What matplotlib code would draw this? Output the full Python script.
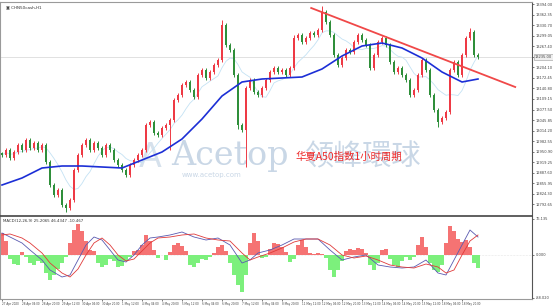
import numpy as np
import pandas as pd
import matplotlib
matplotlib.use("Agg")
import matplotlib.pyplot as plt
import matplotlib.transforms as mtransforms

plt.rcParams['font.family'] = ['DejaVu Sans', 'Noto Sans CJK SC']

# hourly closes
closes = [12941, 12956, 12932, 12950, 12971, 12956, 12986, 12962, 12977, 12956,
          12971, 12920, 12851, 12821, 12836, 12791, 12782, 12806, 12896, 12941,
          12971, 12986, 12956, 12977, 12962, 12941, 12971, 12956, 12926, 12911,
          12896, 12881, 12911, 12926, 12941, 12956, 13031, 13040, 13007, 13001,
          13022, 13031, 13046, 13106, 13121, 13151, 13160, 13136, 13115, 13181,
          13196, 13172, 13190, 13211, 13226, 13331, 13271, 13256, 13181, 13031,
          13016, 13142, 13166, 13130, 13121, 13142, 13166, 13190, 13202, 13190,
          13196, 13181, 13202, 13292, 13301, 13280, 13292, 13307, 13301, 13316,
          13370, 13340, 13301, 13241, 13211, 13232, 13256, 13250, 13280, 13301,
          13286, 13271, 13202, 13241, 13280, 13292, 13271, 13220, 13190, 13202,
          13181, 13166, 13121, 13136, 13181, 13226, 13196, 13121, 13076, 13040,
          13052, 13070, 13196, 13220, 13181, 13241, 13292, 13310, 13241, 13235]
first_open = 12946
spike_hi = {55: 13346, 80: 13388, 117: 13322, 73: 13300}
spike_lo = {16: 12770, 42: 12956, 61: 12905, 109: 13025, 59: 13020}

# slow moving average (thick blue)
ma_idx = [0, 5, 10, 15, 20, 25, 30, 35, 40, 45, 50, 55, 60, 65, 70, 75, 80, 85,
          90, 95, 100, 105, 110, 115, 119]
ma_slow = [12851, 12872, 12902, 12908, 12908, 12905, 12902, 12926, 12950, 12989,
           13049, 13118, 13160, 13169, 13172, 13175, 13199, 13238, 13268, 13277,
           13262, 13232, 13190, 13160, 13169]

# trend line
trend_idx = [77.3, 128.3]
trend_price = [13382, 13145]

# MACD panel
hist = [44, 28, -8, -18, -20, 6, -4, -16, -20, -12,
        -16, -36, -50, -40, -28, -16, -4, 24, 50, 62,
        48, 28, 10, 8, -16, -24, -20, -8, -12, -24,
        -22, -12, -4, 8, 10, 20, 40, 28, 10, -6,
        0, -10, 6, 20, 24, 18, 8, -20, -24, -16,
        -8, -10, -4, 4, 16, 20, 8, -16, -40, -60,
        -74, -40, 24, 44, 28, -6, -4, 12, 24, 22,
        16, 6, -14, -8, 20, 30, 16, 4, 2, 4,
        2, -6, -30, -44, -30, -12, 8, 12, 10, 14,
        12, 4, -20, -30, -16, 10, 12, -8, -20, -24,
        -12, -4, -10, -4, 20, 36, 16, -16, -30, -34,
        -20, 24, 58, 48, 32, 26, 30, 16, -16, -26]
macd_idx = [0, 2, 5, 7, 10, 12, 15, 17, 19, 21, 23, 25, 27, 29, 31, 33, 35, 37, 39, 42,
            45, 48, 51, 54, 57, 60, 62, 64, 67, 70, 73, 76, 79, 82, 85, 88, 91, 94, 97, 100,
            103, 106, 109, 111, 113, 115, 117, 119]
macd_main = [44, 36, 24, 10, -10, -30, -44, -40, -10, 20, 36, 30, 10, -10, -14, 0, 20, 34, 36, 40,
             46, 36, 30, 34, 20, -16, -10, 4, 10, 20, 32, 32, 32, 10, -10, -4, 0, -20, -24, -26,
             -24, -10, -36, -40, -10, 20, 50, 36]
macd_signal = [40, 42, 34, 24, 4, -16, -36, -44, -28, 0, 24, 34, 20, 0, -12, -8, 8, 24, 34, 36,
               40, 42, 34, 30, 28, 4, -10, -4, 4, 14, 26, 32, 32, 20, 0, -6, -2, -10, -20, -24,
               -26, -18, -24, -36, -30, 0, 28, 40]

date_labels = ["27 Apr 2020", "28 Apr 04:00", "28 Apr 20:00", "29 Apr 12:00", "30 Apr 04:00",
               "30 Apr 20:00", "1 May 12:00", "4 May 04:00", "4 May 20:00", "5 May 12:00",
               "6 May 04:00", "6 May 20:00", "7 May 12:00", "8 May 04:00", "8 May 20:00",
               "11 May 12:00", "12 May 04:00", "12 May 20:00", "13 May 12:00", "14 May 04:00",
               "14 May 20:00", "15 May 12:00", "18 May 04:00", "18 May 20:00"]

closes = np.array(closes, dtype=float)
opens = np.concatenate([[first_open], closes[:-1]])
idx = np.arange(len(closes))
highs = np.maximum(opens, closes) + 5
lows = np.minimum(opens, closes) - 5
for k, v in spike_hi.items():
    highs[k] = v
for k, v in spike_lo.items():
    lows[k] = v
ma_fast = pd.Series(closes).rolling(8, min_periods=1).mean()

fig = plt.figure(figsize=(5.53, 3.08), dpi=100)
ax = fig.add_axes([0.0, 1 - 216 / 308, 532 / 553, 214 / 308])
axm = fig.add_axes([0.0, 1 - 299 / 308, 532 / 553, 82 / 308], sharex=ax)

up = closes >= opens
cols = np.where(up, '#ee3a45', '#2f8f3a')
ax.vlines(idx, lows, highs, colors=cols, linewidth=0.7, zorder=3)
body = np.maximum(np.abs(closes - opens), 2)
ax.bar(idx, body, bottom=np.minimum(opens, closes), width=0.5, color=cols,
       linewidth=0, zorder=3)

ax.plot(idx, ma_fast, color='#c4e2f4', lw=0.6, zorder=2)
ax.plot(ma_idx, ma_slow, color='#1c2fd6', lw=1.2, zorder=4)
ax.plot(trend_idx, trend_price, color='#f04848', lw=1.3, zorder=5)
ax.axhline(closes[-1], color='#dcdcdc', lw=0.6, zorder=1)

ax.set_xlim(-0.5, 132.5)
ax.set_ylim(12758, 13400)
yt = 13394 - 31.65 * np.arange(20)
ax.set_yticks(yt)
ax.set_yticklabels(['%.2f' % v for v in yt])
ax.yaxis.tick_right()
ax.tick_params(axis='y', labelsize=2.6, length=1.5, width=0.5, colors='#444444', pad=1)
ax.tick_params(axis='x', bottom=False, labelbottom=False)
for s in ['top', 'left']:
    ax.spines[s].set_color('#9a9a9a')
    ax.spines[s].set_linewidth(0.8)
ax.spines['right'].set_color('#555555')
ax.spines['right'].set_linewidth(0.8)
ax.spines['bottom'].set_color('#444444')
ax.spines['bottom'].set_linewidth(1.2)

trans = mtransforms.blended_transform_factory(ax.transAxes, ax.transData)
ax.text(1.005, closes[-1], '%.2f' % closes[-1], transform=trans, fontsize=2.6,
        va='center', ha='left', color='#444444',
        bbox=dict(boxstyle='square,pad=0.2', fc='#efefef', ec='#999999', lw=0.4))

ax.text(0.012, 0.985, '\u25a3 CHN50cash,H1', transform=ax.transAxes, fontsize=3.0,
        va='top', ha='left', color='#333333')

# watermark
ax.text(150 / 553, 0.49, 'A', transform=fig.transFigure, fontsize=24, color='#d6e1ec',
        ha='center', va='center', zorder=0)
ax.text(230 / 553, 0.495, 'Acetop', transform=fig.transFigure, fontsize=24,
        family='DejaVu Serif', color='#c9d7e6', ha='center', va='center', zorder=0)
ax.text(212 / 553, 0.433, 'www.acetop.com', transform=fig.transFigure, fontsize=5,
        color='#c9d7e6', ha='center', va='center', zorder=0)
ax.text(362 / 553, 0.49, '领峰環球', transform=fig.transFigure, fontsize=21,
        family=['Noto Sans CJK TC'], color='#c9d7e6', ha='center', va='center', zorder=0)
ax.text(349 / 553, 0.492, '华夏A50指数1小时周期', transform=fig.transFigure, fontsize=7.5,
        family=['Noto Sans CJK SC'], color='#ee2a2a', ha='center', va='center', zorder=6)

# MACD
hist = np.array(hist, dtype=float)
hcols = np.where(hist >= 0, '#f57373', '#7cf07c')
axm.bar(idx, hist, width=1.0, color=hcols, linewidth=0, zorder=2)
axm.plot(macd_idx, macd_main, color='#5a5ab0', lw=0.6, zorder=3)
axm.plot(macd_idx, macd_signal, color='#e03a3a', lw=0.6, zorder=3)
axm.axhline(0, color='#d0d0d0', lw=0.4, ls=':', zorder=1)
axm.set_ylim(-88, 76)
axm.set_yticks([73, 0, -85])
axm.set_yticklabels(['76.135', '0.000', '-88.020'])
axm.yaxis.tick_right()
axm.tick_params(axis='y', labelsize=2.6, length=1.5, width=0.5, colors='#444444', pad=1)
xt = np.arange(0, 5 * len(date_labels), 5)
axm.set_xticks(xt)
axm.set_xticklabels(date_labels)
axm.tick_params(axis='x', labelsize=2.0, length=1.5, width=0.5, colors='#444444', pad=1)
for lab in axm.get_xticklabels():
    lab.set_horizontalalignment('left')
for s in ['left', 'bottom']:
    axm.spines[s].set_color('#9a9a9a')
    axm.spines[s].set_linewidth(0.8)
axm.spines['top'].set_visible(False)
axm.spines['right'].set_color('#555555')
axm.spines['right'].set_linewidth(0.8)
axm.text(0.006, 0.97, 'MACD(12,26,9) 25.2065 46.4347 -10.467', transform=axm.transAxes,
         fontsize=2.8, va='top', ha='left', color='#333333')

fig.savefig('out.png', dpi=100)
